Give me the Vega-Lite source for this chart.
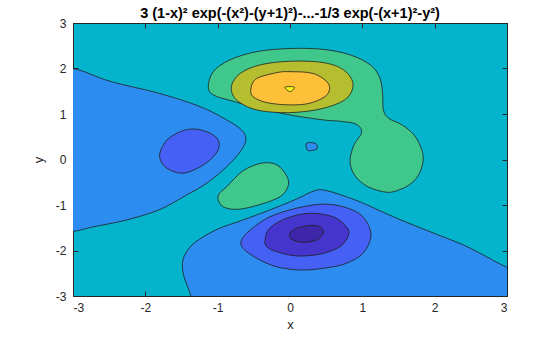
{
  "$schema": "https://vega.github.io/schema/vega-lite/v6.json",
  "width": 434,
  "height": 273,
  "autosize": {"type": "none"},
  "padding": {"left": 73, "top": 23, "right": 53, "bottom": 41},
  "title": {"text": "3 (1-x)² exp(-(x²)-(y+1)²)-...-1/3 exp(-(x+1)²-y²)", "font": "Liberation Sans", "fontSize": 14.5, "fontWeight": "bold", "color": "#000000", "offset": -4},
  "config": {
    "view": {"fill": "#03B4CC", "stroke": "#262626", "strokeWidth": 1},
    "axis": {"grid": false, "domain": false, "labelFont": "Liberation Sans", "titleFont": "Liberation Sans", "labelColor": "#262626", "titleColor": "#262626", "tickColor": "#262626", "labelFontSize": 12, "titleFontSize": 13, "titleFontWeight": "normal", "zindex": 1}
  },
  "datasets": {
    "c": [
      {"id":"A1","d":1,"b":"n0","o":0,"x":-3.5,"y":2.02},
      {"id":"A1","d":1,"b":"n0","o":1,"x":-3,"y":2.0},
      {"id":"A1","d":1,"b":"n0","o":2,"x":-2.49,"y":1.72},
      {"id":"A1","d":1,"b":"n0","o":3,"x":-1.8,"y":1.45},
      {"id":"A1","d":1,"b":"n0","o":4,"x":-1.24,"y":1.16},
      {"id":"A1","d":1,"b":"n0","o":5,"x":-0.875,"y":0.87},
      {"id":"A1","d":1,"b":"n0","o":6,"x":-0.67,"y":0.65},
      {"id":"A1","d":1,"b":"n0","o":7,"x":-0.61,"y":0.43},
      {"id":"A1","d":1,"b":"n0","o":8,"x":-0.69,"y":0.17},
      {"id":"A1","d":1,"b":"n0","o":9,"x":-0.875,"y":-0.16},
      {"id":"A1","d":1,"b":"n0","o":10,"x":-1.15,"y":-0.52},
      {"id":"A1","d":1,"b":"n0","o":11,"x":-1.43,"y":-0.78},
      {"id":"A1","d":1,"b":"n0","o":12,"x":-1.8,"y":-1.1},
      {"id":"A1","d":1,"b":"n0","o":13,"x":-2.26,"y":-1.33},
      {"id":"A1","d":1,"b":"n0","o":14,"x":-2.72,"y":-1.48},
      {"id":"A1","d":1,"b":"n0","o":15,"x":-3,"y":-1.58},
      {"id":"A1","d":1,"b":"n0","o":16,"x":-3.5,"y":-1.65},
      {"id":"A2","d":1,"b":"n0","o":0,"x":-1.32,"y":-3.5},
      {"id":"A2","d":1,"b":"n0","o":1,"x":-1.37,"y":-3.0},
      {"id":"A2","d":1,"b":"n0","o":2,"x":-1.47,"y":-2.55},
      {"id":"A2","d":1,"b":"n0","o":3,"x":-1.48,"y":-2.21},
      {"id":"A2","d":1,"b":"n0","o":4,"x":-1.38,"y":-1.92},
      {"id":"A2","d":1,"b":"n0","o":5,"x":-1.2,"y":-1.7},
      {"id":"A2","d":1,"b":"n0","o":6,"x":-0.97,"y":-1.51},
      {"id":"A2","d":1,"b":"n0","o":7,"x":-0.65,"y":-1.33},
      {"id":"A2","d":1,"b":"n0","o":8,"x":-0.28,"y":-1.11},
      {"id":"A2","d":1,"b":"n0","o":9,"x":0.09,"y":-0.87},
      {"id":"A2","d":1,"b":"n0","o":10,"x":0.35,"y":-0.68},
      {"id":"A2","d":1,"b":"n0","o":11,"x":0.52,"y":-0.69},
      {"id":"A2","d":1,"b":"n0","o":12,"x":0.78,"y":-0.82},
      {"id":"A2","d":1,"b":"n0","o":13,"x":1.01,"y":-0.96},
      {"id":"A2","d":1,"b":"n0","o":14,"x":1.475,"y":-1.29},
      {"id":"A2","d":1,"b":"n0","o":15,"x":1.94,"y":-1.59},
      {"id":"A2","d":1,"b":"n0","o":16,"x":2.4,"y":-1.88},
      {"id":"A2","d":1,"b":"n0","o":17,"x":2.72,"y":-2.14},
      {"id":"A2","d":1,"b":"n0","o":18,"x":3.0,"y":-2.37},
      {"id":"A2","d":1,"b":"n0","o":19,"x":3.5,"y":-2.7},
      {"id":"A2","d":1,"b":"n0","o":20,"x":3.5,"y":-3.5},
      {"id":"A3","d":1,"b":"n0","o":0,"x":0.23,"y":0.36},
      {"id":"A3","d":1,"b":"n0","o":1,"x":0.355,"y":0.35},
      {"id":"A3","d":1,"b":"n0","o":2,"x":0.37,"y":0.23},
      {"id":"A3","d":1,"b":"n0","o":3,"x":0.245,"y":0.2},
      {"id":"E1","d":1,"b":"p2","o":0,"x":-1.13,"y":1.6},
      {"id":"E1","d":1,"b":"p2","o":1,"x":-1.06,"y":1.93},
      {"id":"E1","d":1,"b":"p2","o":2,"x":-0.83,"y":2.19},
      {"id":"E1","d":1,"b":"p2","o":3,"x":-0.46,"y":2.37},
      {"id":"E1","d":1,"b":"p2","o":4,"x":0.0,"y":2.44},
      {"id":"E1","d":1,"b":"p2","o":5,"x":0.46,"y":2.42},
      {"id":"E1","d":1,"b":"p2","o":6,"x":0.83,"y":2.3},
      {"id":"E1","d":1,"b":"p2","o":7,"x":1.11,"y":2.08},
      {"id":"E1","d":1,"b":"p2","o":8,"x":1.24,"y":1.8},
      {"id":"E1","d":1,"b":"p2","o":9,"x":1.28,"y":1.45},
      {"id":"E1","d":1,"b":"p2","o":10,"x":1.29,"y":1.1},
      {"id":"E1","d":1,"b":"p2","o":11,"x":1.36,"y":0.91},
      {"id":"E1","d":1,"b":"p2","o":12,"x":1.55,"y":0.76},
      {"id":"E1","d":1,"b":"p2","o":13,"x":1.72,"y":0.53},
      {"id":"E1","d":1,"b":"p2","o":14,"x":1.82,"y":0.22},
      {"id":"E1","d":1,"b":"p2","o":15,"x":1.84,"y":-0.02},
      {"id":"E1","d":1,"b":"p2","o":16,"x":1.79,"y":-0.3},
      {"id":"E1","d":1,"b":"p2","o":17,"x":1.68,"y":-0.52},
      {"id":"E1","d":1,"b":"p2","o":18,"x":1.52,"y":-0.66},
      {"id":"E1","d":1,"b":"p2","o":19,"x":1.34,"y":-0.72},
      {"id":"E1","d":1,"b":"p2","o":20,"x":1.08,"y":-0.6},
      {"id":"E1","d":1,"b":"p2","o":21,"x":0.9,"y":-0.36},
      {"id":"E1","d":1,"b":"p2","o":22,"x":0.83,"y":-0.05},
      {"id":"E1","d":1,"b":"p2","o":23,"x":0.88,"y":0.3},
      {"id":"E1","d":1,"b":"p2","o":24,"x":0.99,"y":0.6},
      {"id":"E1","d":1,"b":"p2","o":25,"x":0.91,"y":0.78},
      {"id":"E1","d":1,"b":"p2","o":26,"x":0.7,"y":0.84},
      {"id":"E1","d":1,"b":"p2","o":27,"x":0.46,"y":0.87},
      {"id":"E1","d":1,"b":"p2","o":28,"x":0.0,"y":0.98},
      {"id":"E1","d":1,"b":"p2","o":29,"x":-0.46,"y":1.14},
      {"id":"E1","d":1,"b":"p2","o":30,"x":-0.83,"y":1.3},
      {"id":"E1","d":1,"b":"p2","o":31,"x":-1.06,"y":1.42},
      {"id":"E2","d":1,"b":"p2","o":0,"x":-0.97,"y":-0.97},
      {"id":"E2","d":1,"b":"p2","o":1,"x":-0.99,"y":-0.78},
      {"id":"E2","d":1,"b":"p2","o":2,"x":-0.875,"y":-0.6},
      {"id":"E2","d":1,"b":"p2","o":3,"x":-0.65,"y":-0.25},
      {"id":"E2","d":1,"b":"p2","o":4,"x":-0.39,"y":-0.08},
      {"id":"E2","d":1,"b":"p2","o":5,"x":-0.18,"y":-0.12},
      {"id":"E2","d":1,"b":"p2","o":6,"x":-0.04,"y":-0.38},
      {"id":"E2","d":1,"b":"p2","o":7,"x":-0.03,"y":-0.6},
      {"id":"E2","d":1,"b":"p2","o":8,"x":-0.14,"y":-0.82},
      {"id":"E2","d":1,"b":"p2","o":9,"x":-0.415,"y":-0.99},
      {"id":"E2","d":1,"b":"p2","o":10,"x":-0.69,"y":-1.09},
      {"id":"E2","d":1,"b":"p2","o":11,"x":-0.875,"y":-1.07},
      {"id":"B1","d":2,"b":"n2","o":0,"x":-1.8,"y":0.14},
      {"id":"B1","d":2,"b":"n2","o":1,"x":-1.7,"y":0.43},
      {"id":"B1","d":2,"b":"n2","o":2,"x":-1.52,"y":0.61},
      {"id":"B1","d":2,"b":"n2","o":3,"x":-1.34,"y":0.67},
      {"id":"B1","d":2,"b":"n2","o":4,"x":-1.15,"y":0.61},
      {"id":"B1","d":2,"b":"n2","o":5,"x":-1.01,"y":0.47},
      {"id":"B1","d":2,"b":"n2","o":6,"x":-0.98,"y":0.28},
      {"id":"B1","d":2,"b":"n2","o":7,"x":-1.06,"y":0.06},
      {"id":"B1","d":2,"b":"n2","o":8,"x":-1.24,"y":-0.16},
      {"id":"B1","d":2,"b":"n2","o":9,"x":-1.47,"y":-0.3},
      {"id":"B1","d":2,"b":"n2","o":10,"x":-1.66,"y":-0.23},
      {"id":"B1","d":2,"b":"n2","o":11,"x":-1.77,"y":-0.08},
      {"id":"B2","d":2,"b":"n2","o":0,"x":-0.67,"y":-1.77},
      {"id":"B2","d":2,"b":"n2","o":1,"x":-0.55,"y":-1.55},
      {"id":"B2","d":2,"b":"n2","o":2,"x":-0.28,"y":-1.26},
      {"id":"B2","d":2,"b":"n2","o":3,"x":0.09,"y":-1.07},
      {"id":"B2","d":2,"b":"n2","o":4,"x":0.46,"y":-0.98},
      {"id":"B2","d":2,"b":"n2","o":5,"x":0.78,"y":-1.06},
      {"id":"B2","d":2,"b":"n2","o":6,"x":1.01,"y":-1.26},
      {"id":"B2","d":2,"b":"n2","o":7,"x":1.12,"y":-1.66},
      {"id":"B2","d":2,"b":"n2","o":8,"x":1.01,"y":-2.06},
      {"id":"B2","d":2,"b":"n2","o":9,"x":0.78,"y":-2.28},
      {"id":"B2","d":2,"b":"n2","o":10,"x":0.55,"y":-2.37},
      {"id":"B2","d":2,"b":"n2","o":11,"x":0.18,"y":-2.43},
      {"id":"B2","d":2,"b":"n2","o":12,"x":-0.18,"y":-2.36},
      {"id":"B2","d":2,"b":"n2","o":13,"x":-0.46,"y":-2.17},
      {"id":"B2","d":2,"b":"n2","o":14,"x":-0.65,"y":-1.95},
      {"id":"F","d":2,"b":"p4","o":0,"x":-0.81,"y":1.6},
      {"id":"F","d":2,"b":"p4","o":1,"x":-0.69,"y":1.89},
      {"id":"F","d":2,"b":"p4","o":2,"x":-0.41,"y":2.08},
      {"id":"F","d":2,"b":"p4","o":3,"x":0.0,"y":2.16},
      {"id":"F","d":2,"b":"p4","o":4,"x":0.46,"y":2.13},
      {"id":"F","d":2,"b":"p4","o":5,"x":0.74,"y":1.97},
      {"id":"F","d":2,"b":"p4","o":6,"x":0.87,"y":1.67},
      {"id":"F","d":2,"b":"p4","o":7,"x":0.78,"y":1.34},
      {"id":"F","d":2,"b":"p4","o":8,"x":0.46,"y":1.125},
      {"id":"F","d":2,"b":"p4","o":9,"x":0.0,"y":1.03},
      {"id":"F","d":2,"b":"p4","o":10,"x":-0.46,"y":1.09},
      {"id":"F","d":2,"b":"p4","o":11,"x":-0.74,"y":1.31},
      {"id":"C","d":3,"b":"n4","o":0,"x":-0.345,"y":-1.77},
      {"id":"C","d":3,"b":"n4","o":1,"x":-0.28,"y":-1.51},
      {"id":"C","d":3,"b":"n4","o":2,"x":-0.046,"y":-1.29},
      {"id":"C","d":3,"b":"n4","o":3,"x":0.277,"y":-1.18},
      {"id":"C","d":3,"b":"n4","o":4,"x":0.6,"y":-1.26},
      {"id":"C","d":3,"b":"n4","o":5,"x":0.78,"y":-1.48},
      {"id":"C","d":3,"b":"n4","o":6,"x":0.81,"y":-1.66},
      {"id":"C","d":3,"b":"n4","o":7,"x":0.69,"y":-1.92},
      {"id":"C","d":3,"b":"n4","o":8,"x":0.415,"y":-2.08},
      {"id":"C","d":3,"b":"n4","o":9,"x":0.093,"y":-2.12},
      {"id":"C","d":3,"b":"n4","o":10,"x":-0.18,"y":-2.03},
      {"id":"C","d":3,"b":"n4","o":11,"x":-0.32,"y":-1.92},
      {"id":"G","d":3,"b":"p6","o":0,"x":-0.54,"y":1.56},
      {"id":"G","d":3,"b":"p6","o":1,"x":-0.46,"y":1.78},
      {"id":"G","d":3,"b":"p6","o":2,"x":-0.18,"y":1.91},
      {"id":"G","d":3,"b":"p6","o":3,"x":0.0,"y":1.93},
      {"id":"G","d":3,"b":"p6","o":4,"x":0.32,"y":1.89},
      {"id":"G","d":3,"b":"p6","o":5,"x":0.53,"y":1.67},
      {"id":"G","d":3,"b":"p6","o":6,"x":0.51,"y":1.42},
      {"id":"G","d":3,"b":"p6","o":7,"x":0.28,"y":1.24},
      {"id":"G","d":3,"b":"p6","o":8,"x":0.0,"y":1.2},
      {"id":"G","d":3,"b":"p6","o":9,"x":-0.32,"y":1.25},
      {"id":"G","d":3,"b":"p6","o":10,"x":-0.51,"y":1.38},
      {"id":"D","d":4,"b":"n6","o":0,"x":0.0,"y":-1.62},
      {"id":"D","d":4,"b":"n6","o":1,"x":0.093,"y":-1.51},
      {"id":"D","d":4,"b":"n6","o":2,"x":0.277,"y":-1.45},
      {"id":"D","d":4,"b":"n6","o":3,"x":0.415,"y":-1.48},
      {"id":"D","d":4,"b":"n6","o":4,"x":0.46,"y":-1.61},
      {"id":"D","d":4,"b":"n6","o":5,"x":0.37,"y":-1.77},
      {"id":"D","d":4,"b":"n6","o":6,"x":0.18,"y":-1.82},
      {"id":"D","d":4,"b":"n6","o":7,"x":0.02,"y":-1.75},
      {"id":"H","d":4,"b":"p8","o":0,"x":-0.07,"y":1.59},
      {"id":"H","d":4,"b":"p8","o":1,"x":0.06,"y":1.59},
      {"id":"H","d":4,"b":"p8","o":2,"x":0.0,"y":1.49}
    ]
  },
  "resolve": {"axis": {"x": "independent", "y": "independent"}},
  "layer": [
    {
      "data": {"name": "c"},
      "transform": [{"filter": "datum.d == 1"}],
      "mark": {"type": "line", "interpolate": "cardinal-closed", "stroke": "#1f1f1f", "strokeWidth": 0.8, "clip": true},
      "encoding": {
        "x": {"field": "x", "type": "quantitative", "scale": {"domain": [-3, 3], "nice": false, "zero": false}, "axis": {"orient": "bottom", "title": "x", "values": [-3, -2, -1, 0, 1, 2, 3], "labelExpr": "replace(datum.label, '−', '-')", "tickSize": -5, "labelPadding": 11, "titlePadding": 5}},
        "y": {"field": "y", "type": "quantitative", "scale": {"domain": [-3, 3], "nice": false, "zero": false}, "axis": {"orient": "left", "title": "y", "values": [-3, -2, -1, 0, 1, 2, 3], "labelExpr": "replace(datum.label, '−', '-')", "tickSize": -5, "labelPadding": 12, "titlePadding": 10}},
        "detail": {"field": "id"},
        "order": {"field": "o", "type": "quantitative"},
        "fill": {"field": "b", "type": "nominal", "scale": {"domain": ["n6", "n4", "n2", "n0", "p2", "p4", "p6", "p8"], "range": ["#3E26A8", "#4535CC", "#4561F5", "#2C8CF0", "#40C88C", "#B4BE2E", "#FEC038", "#F8F714"]}, "legend": null}
      }
    },
    {
      "data": {"name": "c"},
      "transform": [{"filter": "datum.d == 2"}],
      "mark": {"type": "line", "interpolate": "cardinal-closed", "stroke": "#1f1f1f", "strokeWidth": 0.8, "clip": true},
      "encoding": {
        "x": {"field": "x", "type": "quantitative", "axis": null},
        "y": {"field": "y", "type": "quantitative", "axis": null},
        "detail": {"field": "id"},
        "order": {"field": "o", "type": "quantitative"},
        "fill": {"field": "b", "type": "nominal", "legend": null}
      }
    },
    {
      "data": {"name": "c"},
      "transform": [{"filter": "datum.d == 3"}],
      "mark": {"type": "line", "interpolate": "cardinal-closed", "stroke": "#1f1f1f", "strokeWidth": 0.8, "clip": true},
      "encoding": {
        "x": {"field": "x", "type": "quantitative", "axis": null},
        "y": {"field": "y", "type": "quantitative", "axis": null},
        "detail": {"field": "id"},
        "order": {"field": "o", "type": "quantitative"},
        "fill": {"field": "b", "type": "nominal", "legend": null}
      }
    },
    {
      "data": {"name": "c"},
      "transform": [{"filter": "datum.d == 4"}],
      "mark": {"type": "line", "interpolate": "cardinal-closed", "stroke": "#1f1f1f", "strokeWidth": 0.8, "clip": true},
      "encoding": {
        "x": {"field": "x", "type": "quantitative", "axis": {"orient": "top", "labels": false, "title": null, "values": [-3, -2, -1, 0, 1, 2, 3], "tickSize": -5}},
        "y": {"field": "y", "type": "quantitative", "axis": {"orient": "right", "labels": false, "title": null, "values": [-3, -2, -1, 0, 1, 2, 3], "tickSize": -5}},
        "detail": {"field": "id"},
        "order": {"field": "o", "type": "quantitative"},
        "fill": {"field": "b", "type": "nominal", "legend": null}
      }
    }
  ]
}
